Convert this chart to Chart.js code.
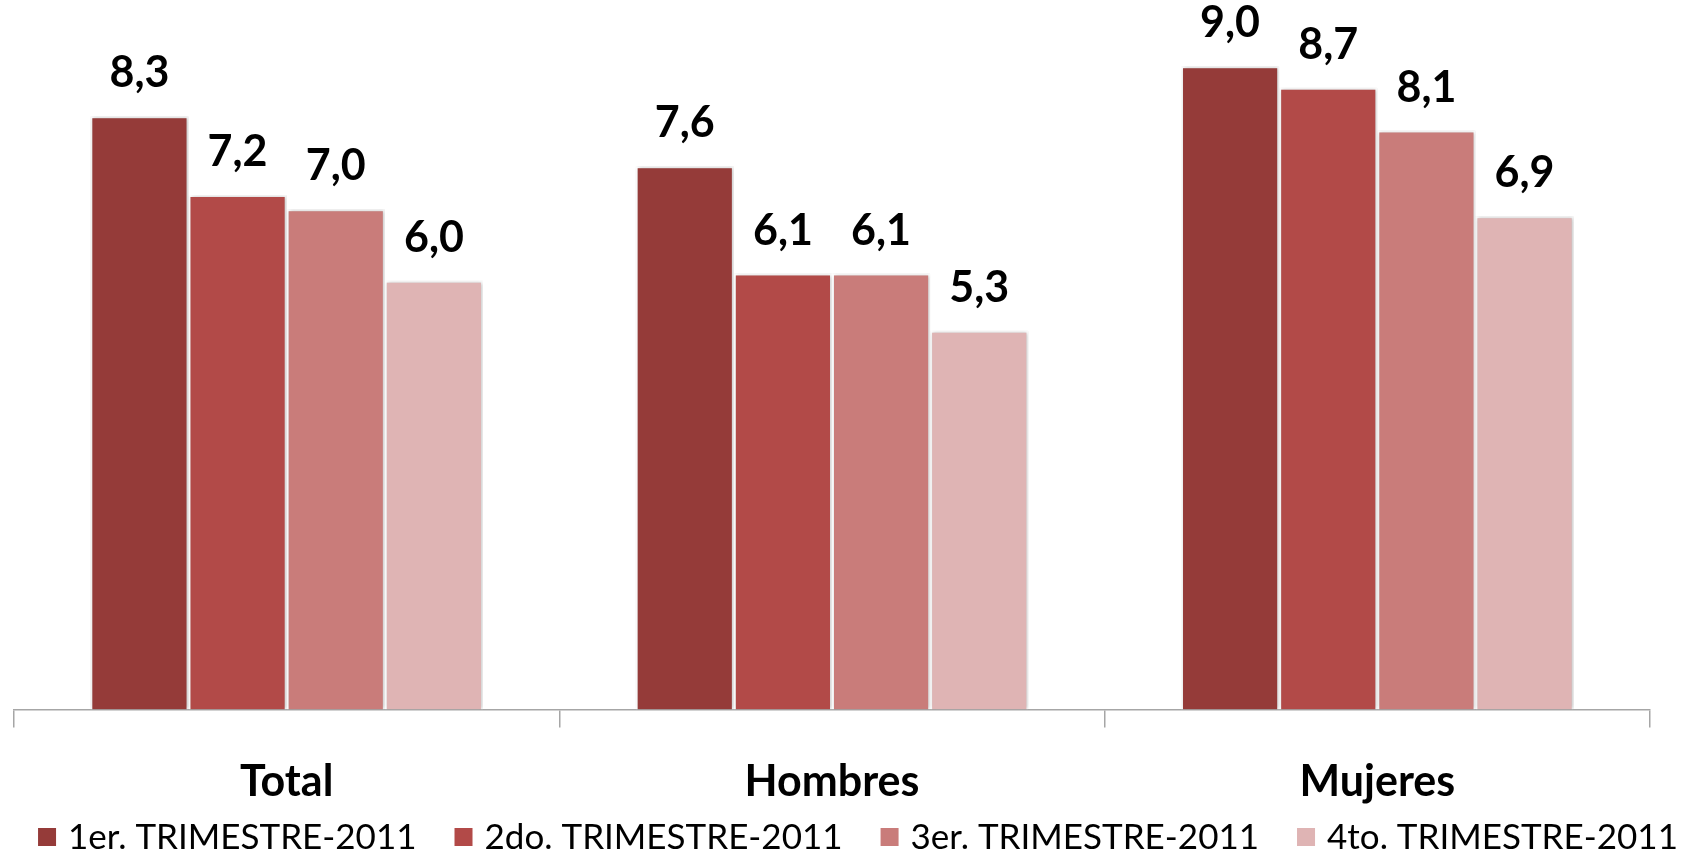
<!DOCTYPE html>
<html>
<head>
<meta charset="utf-8">
<script src="https://cdn.jsdelivr.net/npm/chart.js@4"></script>
<style>
html,body{margin:0;padding:0;background:#fff;}
#wrap{width:1685px;height:854px;position:relative;}
</style>
</head>
<body>
<div id="wrap"><canvas id="c"></canvas></div>
<script>
const categories = ['Total', 'Hombres', 'Mujeres'];
const seriesNames = ['1er. TRIMESTRE-2011', '2do. TRIMESTRE-2011', '3er. TRIMESTRE-2011', '4to. TRIMESTRE-2011'];
const q1 = [8.3, 7.6, 9.0];
const q2 = [7.2, 6.1, 8.7];
const q3 = [7.0, 6.1, 8.1];
const q4 = [6.0, 5.3, 6.9];
const seriesColors = ['#953B39', '#B24A48', '#C97C7A', '#DFB4B4'];

const FONT = 'Lato, "Open Sans", sans-serif';

const valueLabels = {
  id: 'valueLabels',
  afterDatasetsDraw(chart) {
    const ctx = chart.ctx;
    ctx.save();
    ctx.font = 'bold 43px ' + FONT;
    ctx.fillStyle = '#000';
    ctx.textAlign = 'center';
    ctx.textBaseline = 'alphabetic';
    chart.data.datasets.forEach((ds, i) => {
      const meta = chart.getDatasetMeta(i);
      meta.data.forEach((bar, j) => {
        const v = ds.data[j];
        ctx.fillText(v.toFixed(1).replace('.', ','), bar.x, bar.y - 29);
      });
    });
    ctx.restore();
  }
};

const barShadow = {
  id: 'barShadow',
  beforeDatasetsDraw(chart) {
    const ctx = chart.ctx;
    ctx.save();
    ctx.shadowColor = 'rgba(0,0,0,0.25)';
    ctx.shadowBlur = 4;
    ctx.shadowOffsetX = 1;
    ctx.shadowOffsetY = 0;
  },
  afterDatasetsDraw(chart) {
    chart.ctx.restore();
  }
};

// legend drawn from the chart's own datasets
const bottomLegend = {
  id: 'bottomLegend',
  afterDraw(chart) {
    const ctx = chart.ctx;
    ctx.save();
    ctx.font = '35px ' + FONT;
    ctx.textBaseline = 'middle';
    ctx.textAlign = 'left';
    const box = 18, gapText = 12, gapItem = 38;
    const items = chart.data.datasets.map(ds => ({
      label: ds.label, color: ds.backgroundColor,
      w: box + gapText + ctx.measureText(ds.label).width
    }));
    const total = items.reduce((s, it) => s + it.w, 0) + gapItem * (items.length - 1);
    let x = 858 - total / 2;
    const cy = 837;
    items.forEach(it => {
      ctx.fillStyle = it.color;
      ctx.fillRect(x, cy - box / 2, box, box);
      ctx.fillStyle = '#000';
      ctx.fillText(it.label, x + box + gapText, cy + 1);
      x += it.w + gapItem;
    });
    ctx.restore();
  }
};

const dataSets = [q1, q2, q3, q4].map((d, i) => ({
  label: seriesNames[i],
  data: d,
  backgroundColor: seriesColors[i],
  borderColor: '#ffffff',
  borderWidth: 2,
  borderSkipped: 'bottom',
  categoryPercentage: 0.72,
  barPercentage: 1.0
}));

new Chart(document.getElementById('c'), {
  type: 'bar',
  data: { labels: categories, datasets: dataSets },
  options: {
    responsive: true,
    maintainAspectRatio: false,
    animation: false,
    layout: { padding: { left: 14, right: 35, top: 2, bottom: 17 } },
    plugins: {
      legend: { display: false },
      tooltip: { enabled: false }
    },
    scales: {
      x: {
        grid: {
          offset: true,
          drawOnChartArea: false,
          drawTicks: true,
          tickLength: 18,
          color: '#A6A6A6',
          lineWidth: 1.5
        },
        border: { display: true, color: '#A6A6A6', width: 1.5 },
        ticks: {
          font: { family: FONT, size: 43, weight: 'bold' },
          color: '#000',
          padding: 29
        }
      },
      y: {
        display: false,
        min: 0,
        max: 9.9
      }
    }
  },
  plugins: [barShadow, valueLabels, bottomLegend]
});
</script>
</body>
</html>
